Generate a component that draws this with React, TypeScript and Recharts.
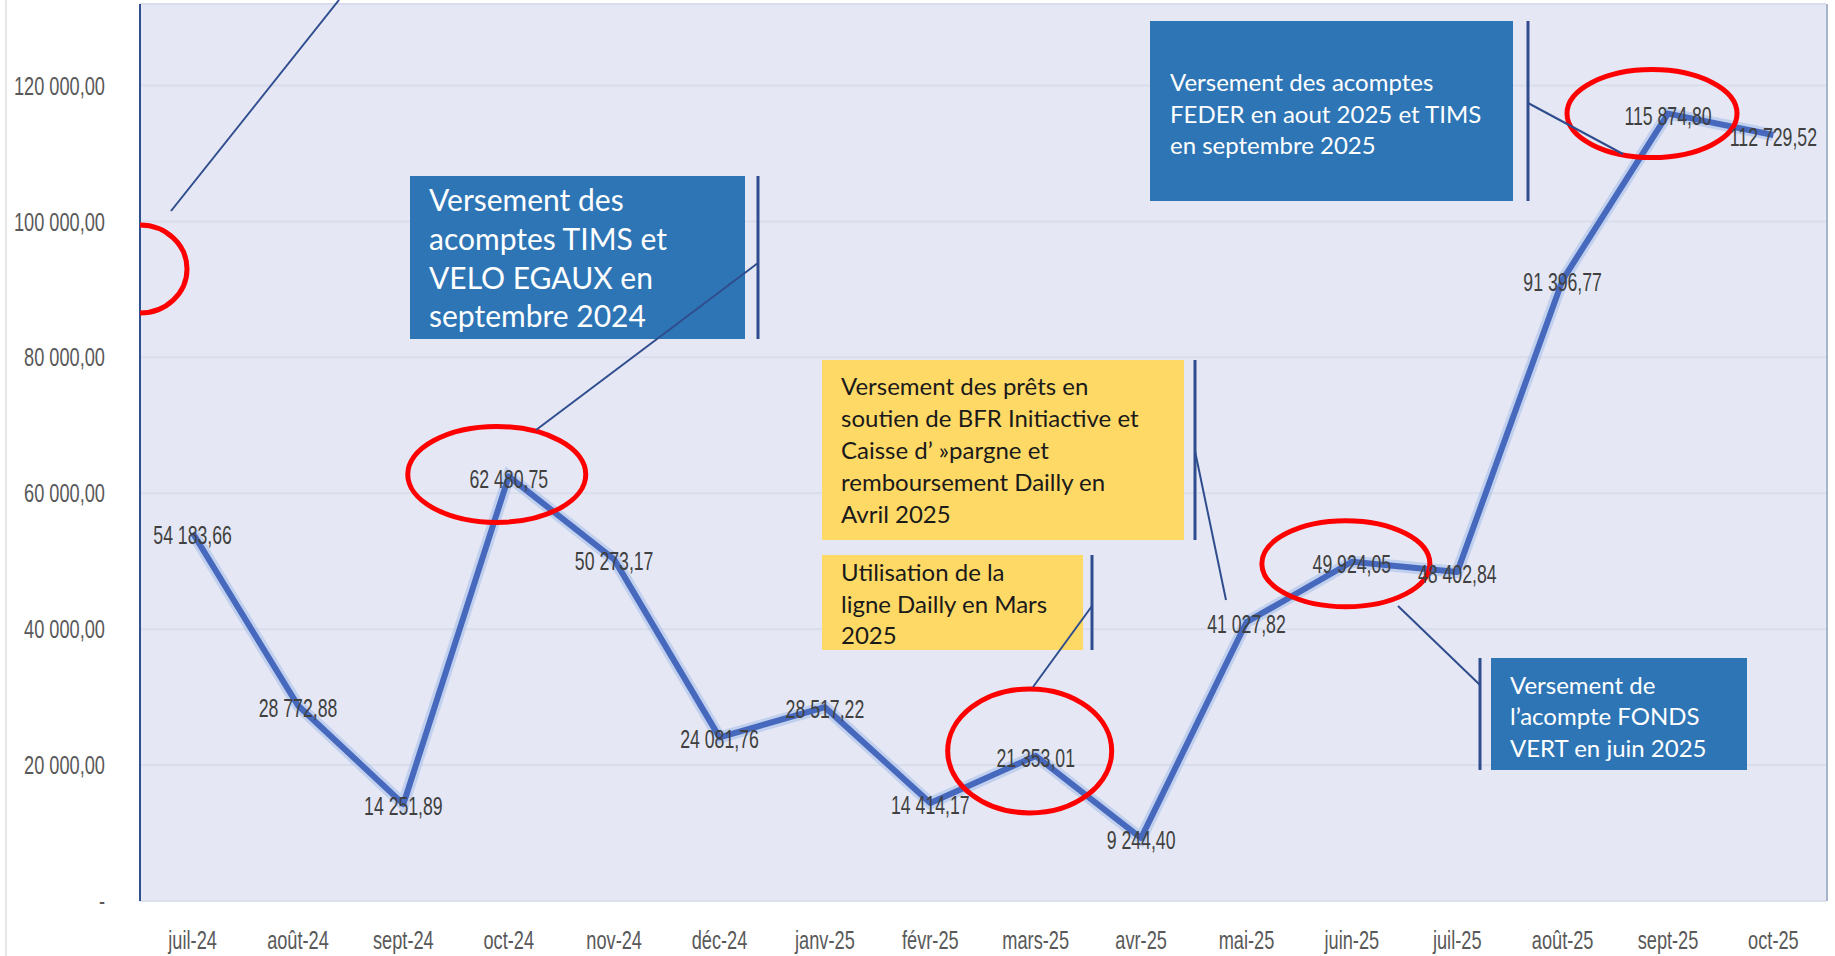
import { LineChart, Line, XAxis, YAxis, CartesianGrid, ReferenceDot, LabelList } from "recharts"

// Trésorerie fin de mois (juil-24 -> oct-25)
const months = [
  "juil-24", "août-24", "sept-24", "oct-24", "nov-24", "déc-24", "janv-25", "févr-25",
  "mars-25", "avr-25", "mai-25", "juin-25", "juil-25", "août-25", "sept-25", "oct-25",
]
const treasury = [
  54183.66, 28772.88, 14251.89, 62480.75, 50273.17, 24081.76, 28517.22, 14414.17,
  21353.01, 9244.4, 41027.82, 49924.05, 48402.84, 91396.77, 115874.8, 112729.52,
]
const yTicks = [0, 20000, 40000, 60000, 80000, 100000, 120000]

// points circled in red
const circled = [
  { month: "oct-24", value: 62480.75, dx: -12, dy: -2, rx: 89, ry: 48 },
  { month: "mars-25", value: 21353.01, dx: -6, dy: -5, rx: 82, ry: 62 },
  { month: "juin-25", value: 49924.05, dx: -6, dy: 2, rx: 84, ry: 43 },
  { month: "sept-25", value: 115874.8, dx: -16, dy: 0, rx: 85, ry: 44 },
]

const data = months.map((m, i) => ({ month: m, value: treasury[i] }))

const W = 1835
const H = 956
const BLUE = "#2E75B6"
const YELLOW = "#FFD966"
const LEADER = "#2F4D8E"
const narrow = "Liberation Sans, Arial, sans-serif"

function fmt(v: number) {
  const [i, d] = v.toFixed(2).split(".")
  return i.replace(/\B(?=(\d{3})+(?!\d))/g, " ") + "," + d
}

function YTick({ y, payload }: any) {
  const label = payload.value === 0 ? "-" : fmt(payload.value)
  return (
    <g transform={`translate(105,${y}) scale(0.7,1)`}>
      <text x={0} y={0} dy="0.35em" textAnchor="end" fill="#595959" fontSize={26} fontFamily={narrow}>
        {label}
      </text>
    </g>
  )
}

function XTick({ x, payload }: any) {
  return (
    <g transform={`translate(${x},940) scale(0.7,1)`}>
      <text x={0} y={0} dy="0.35em" textAnchor="middle" fill="#595959" fontSize={26} fontFamily={narrow}>
        {payload.value}
      </text>
    </g>
  )
}

function ValueLabel({ x, y, value }: any) {
  return (
    <g transform={`translate(${x},${y + 2}) scale(0.68,1)`}>
      <text x={0} y={0} dy="0.35em" textAnchor="middle" fill="#404040" fontSize={26} fontFamily={narrow}>
        {fmt(value)}
      </text>
    </g>
  )
}

function Callout({ x, y, w, h, fill, color, size, lines, textX, baselines, barX }: any) {
  return (
    <g>
      <rect x={x} y={y} width={w} height={h} fill={fill} />
      {lines.map((t: string, i: number) => (
        <text key={i} x={textX} y={baselines[i]} fill={color} fontSize={size} fontFamily="Lato, Open Sans, sans-serif">
          {t}
        </text>
      ))}
      <line x1={barX} y1={y} x2={barX} y2={y + h} stroke={LEADER} strokeWidth={3} />
    </g>
  )
}

export default function App() {
  return (
    <div style={{ position: "absolute", left: 0, top: 0, width: W, height: H, background: "#fff" }}>
      <LineChart width={W} height={H} data={data} margin={{ top: 4, right: 9, bottom: 0, left: 0 }}>
        <CartesianGrid vertical={false} fill="#E5E8F4" stroke="#D9DDEB" strokeWidth={2} />
        <XAxis
          dataKey="month"
          height={55}
          padding={{ left: 52.6, right: 52.6 }}
          axisLine={{ stroke: "#DCE0EA", strokeWidth: 2 }}
          tickLine={false}
          tick={<XTick />}
          interval={0}
        />
        <YAxis
          width={140}
          domain={[0, 132000]}
          ticks={yTicks}
          axisLine={{ stroke: "#2F528F", strokeWidth: 2 }}
          tickLine={false}
          tick={<YTick />}
        />
        <Line
          dataKey="value"
          stroke="#A9BFEA"
          strokeOpacity={0.6}
          strokeWidth={12}
          dot={false}
          activeDot={false}
          isAnimationActive={false}
        />
        <Line
          dataKey="value"
          stroke="#4668BD"
          strokeWidth={6}
          strokeLinejoin="round"
          dot={false}
          activeDot={false}
          isAnimationActive={false}
        >
          <LabelList dataKey="value" content={<ValueLabel />} />
        </Line>
        {circled.map((c) => (
          <ReferenceDot
            key={c.month}
            x={c.month}
            y={c.value}
            ifOverflow="visible"
            shape={(p: any) => (
              <ellipse cx={p.cx + c.dx} cy={p.cy + c.dy} rx={c.rx} ry={c.ry} fill="none" stroke="#FF0000" strokeWidth={5} />
            )}
          />
        ))}
      </LineChart>

      <svg width={W} height={H} style={{ position: "absolute", left: 0, top: 0, pointerEvents: "none" }}>
        {/* faint ruler on the far left and right border */}
        <line x1={6} y1={0} x2={6} y2={H} stroke="#E6E6E6" strokeWidth={2} />
        <line x1={1827} y1={4} x2={1827} y2={901} stroke="#A8B4CC" strokeWidth={2} />

        {/* cut-off annotation at top left */}
        <line x1={339} y1={0} x2={171} y2={211} stroke={LEADER} strokeWidth={2} />
        <path d="M 140 225 A 47 44 0 0 1 140 313" fill="none" stroke="#FF0000" strokeWidth={5} />

        <Callout
          x={410} y={176} w={335} h={163} fill={BLUE} color="#fff" size={30}
          textX={429} baselines={[211, 250, 289, 327]} barX={758}
          lines={["Versement des", "acomptes TIMS et", "VELO EGAUX en", "septembre 2024"]}
        />
        <line x1={758} y1={263} x2={536} y2={430} stroke={LEADER} strokeWidth={2} />

        <Callout
          x={1150} y={21} w={363} h={180} fill={BLUE} color="#fff" size={24}
          textX={1170} baselines={[91, 123, 154]} barX={1528}
          lines={["Versement des acomptes", "FEDER en aout 2025 et TIMS", "en septembre 2025"]}
        />
        <line x1={1528} y1={103} x2={1623} y2={154} stroke={LEADER} strokeWidth={2} />

        <Callout
          x={822} y={360} w={362} h={180} fill={YELLOW} color="#1A1A1A" size={24}
          textX={841} baselines={[395, 427, 459, 491, 523]} barX={1195}
          lines={[
            "Versement des prêts en",
            "soutien de BFR Initiactive et",
            "Caisse d’ »pargne et",
            "remboursement Dailly en",
            "Avril 2025",
          ]}
        />
        <line x1={1195} y1={451} x2={1226} y2={600} stroke={LEADER} strokeWidth={2} />

        <Callout
          x={822} y={555} w={261} h={95} fill={YELLOW} color="#1A1A1A" size={24}
          textX={841} baselines={[581, 613, 644]} barX={1092}
          lines={["Utilisation de la", "ligne Dailly en Mars", "2025"]}
        />
        <line x1={1092} y1={606} x2={1033} y2={687} stroke={LEADER} strokeWidth={2} />

        <Callout
          x={1491} y={658} w={256} h={112} fill={BLUE} color="#fff" size={24}
          textX={1510} baselines={[694, 725, 757]} barX={1480}
          lines={["Versement de", "l’acompte FONDS", "VERT en juin 2025"]}
        />
        <line x1={1480} y1={685} x2={1398} y2={606} stroke={LEADER} strokeWidth={2} />
      </svg>
    </div>
  )
}
